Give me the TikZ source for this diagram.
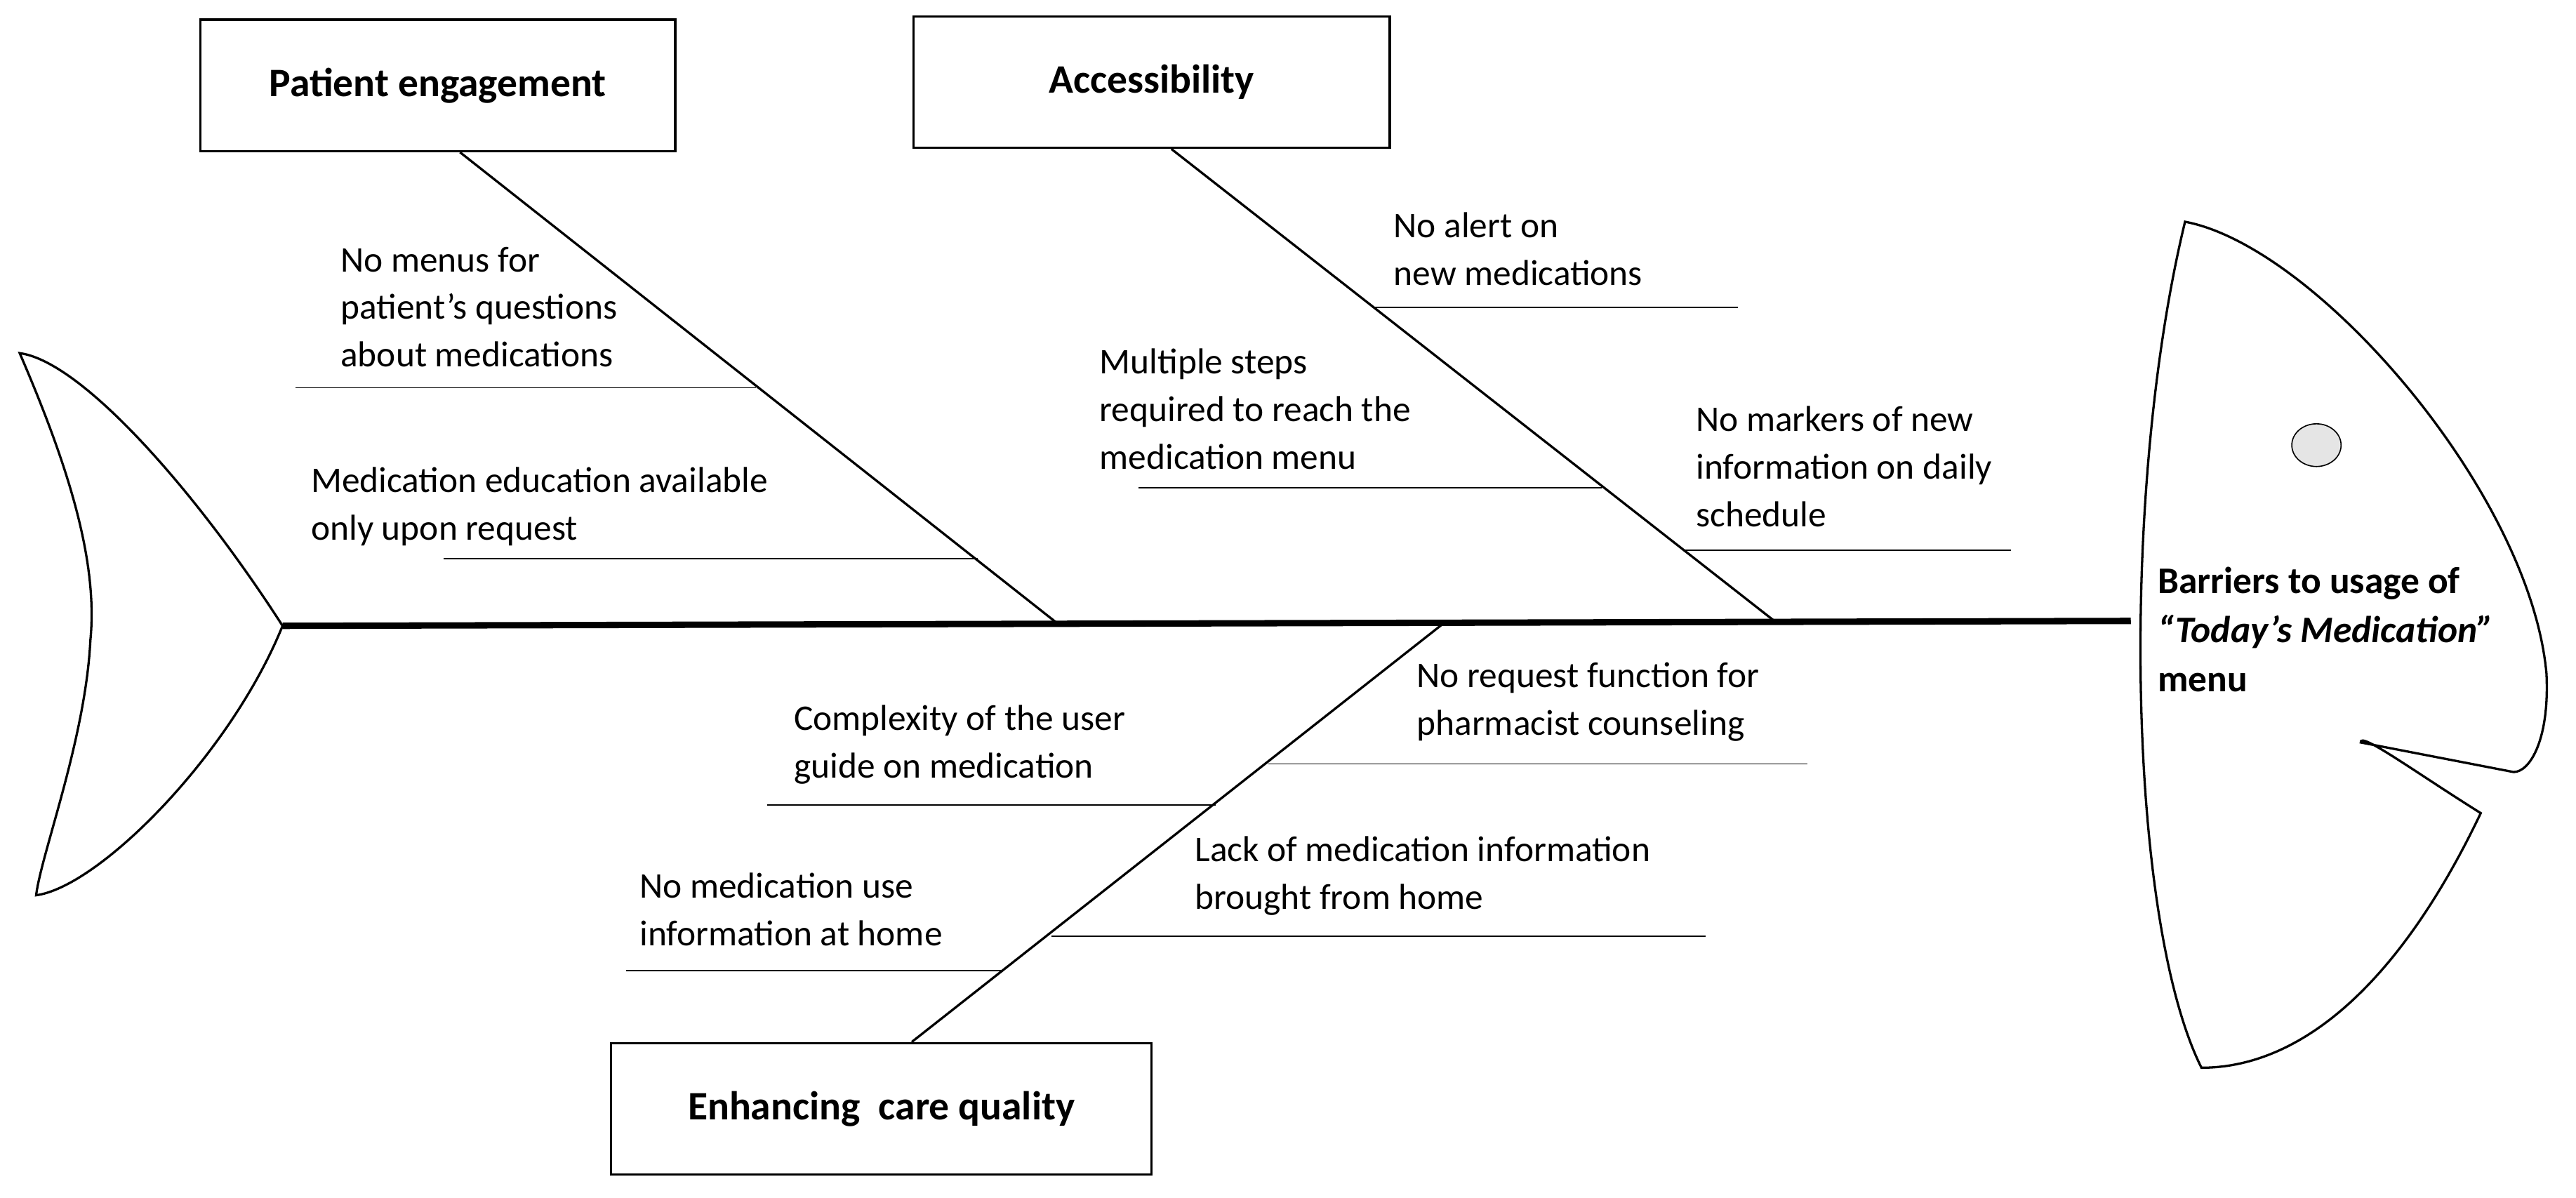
\documentclass[tikz,border=0pt]{standalone}
\usepackage{fontspec}
\setmainfont{Carlito}
\usetikzlibrary{positioning, shapes.geometric}

\begin{document}
\begin{tikzpicture}[x=0.02cm, y=-0.02cm,
  box/.style={draw, thick, font=\fontsize{14}{16}\selectfont\bfseries, inner sep=0},
  cause/.style={anchor=north west, align=left, inner sep=0, font=\fontsize{12.5}{16.5}\selectfont},
  bone/.style={thick},
  tick/.style={thin}]

  \useasboundingbox (0,0) rectangle (1568,729);

  % head and tail
  \coordinate (tail) at (172,381);
  \coordinate (head) at (1297,378);
  \draw[thick] (tail) .. controls (120,300) and (50,220) .. (12,215)
        .. controls (40,280) and (60,340) .. (55,390)
        .. controls (52,450) and (25,520) .. (22,545)
        .. controls (60,540) and (140,460) .. cycle;
  \draw[thick] (1330,135) .. controls (1410,150) and (1540,300) .. (1550,410)
        .. controls (1552,450) and (1540,470) .. (1530,470)
        -- (1437,452) .. controls (1436,445) and (1470,470) .. (1510,495)
        .. controls (1460,600) and (1400,650) .. (1340,650)
        .. controls (1295,560) and (1290,300) .. cycle;
  \node[draw, fill=gray!20, ellipse, minimum width=0.6cm, minimum height=0.52cm, inner sep=0] (eye) at (1410,271) {};
  \node[anchor=north west, align=left, inner sep=0, font=\fontsize{13}{17}\selectfont\bfseries] (effect) at (1313,345)
    {Barriers to usage of\\\textit{“Today’s Medication”}\\menu};

  % spine
  \draw[line width=2.2pt] (tail) -- (head);

  % categories
  \node[box, minimum width=5.78cm, minimum height=1.6cm] (engage) at (266.5,52) {Patient engagement};
  \node[box, minimum width=5.8cm, minimum height=1.6cm] (access) at (701,50) {Accessibility};
  \node[box, minimum width=6.58cm, minimum height=1.6cm] (quality) at (536.5,675) {Enhancing\ \ care quality};

  \coordinate (b1) at (643,379);
  \coordinate (b2) at (1080,378);
  \coordinate (b3) at (878,380);
  \draw[bone] (engage.south -| 280,0) -- (b1);
  \draw[bone] (access.south -| 713,0) -- (b2);
  \draw[bone] (quality.north -| 555,0) -- (b3);

  % causes: patient engagement
  \node[cause] (c11) at (207,150) {No menus for\\patient’s questions\\about medications};
  \draw[tick] (180,236) -- (460,236);
  \node[cause] (c12) at (189,284) {Medication education available\\only upon request};
  \draw[tick] (270,340) -- (595,340);

  % causes: accessibility
  \node[cause] (c21) at (848,129) {No alert on\\new medications};
  \draw[tick] (837,187) -- (1058,187);
  \node[cause] (c22) at (669,212) {Multiple steps\\required to reach the\\medication menu};
  \draw[tick] (693,297) -- (975,297);
  \node[cause] (c23) at (1032,247) {No markers of new\\information on daily\\schedule};
  \draw[tick] (1025,335) -- (1224,335);

  % causes: care quality
  \node[cause] (c31) at (862,403) {No request function for\\pharmacist counseling};
  \draw[tick] (772,465) -- (1100,465);
  \node[cause] (c32) at (483,429) {Complexity of the user\\guide on medication};
  \draw[tick] (467,490) -- (740,490);
  \node[cause] (c33) at (727,509) {Lack of medication information\\brought from home};
  \draw[tick] (640,570) -- (1038,570);
  \node[cause] (c34) at (389,531) {No medication use\\information at home};
  \draw[tick] (381,591) -- (610,591);
\end{tikzpicture}
\end{document}
